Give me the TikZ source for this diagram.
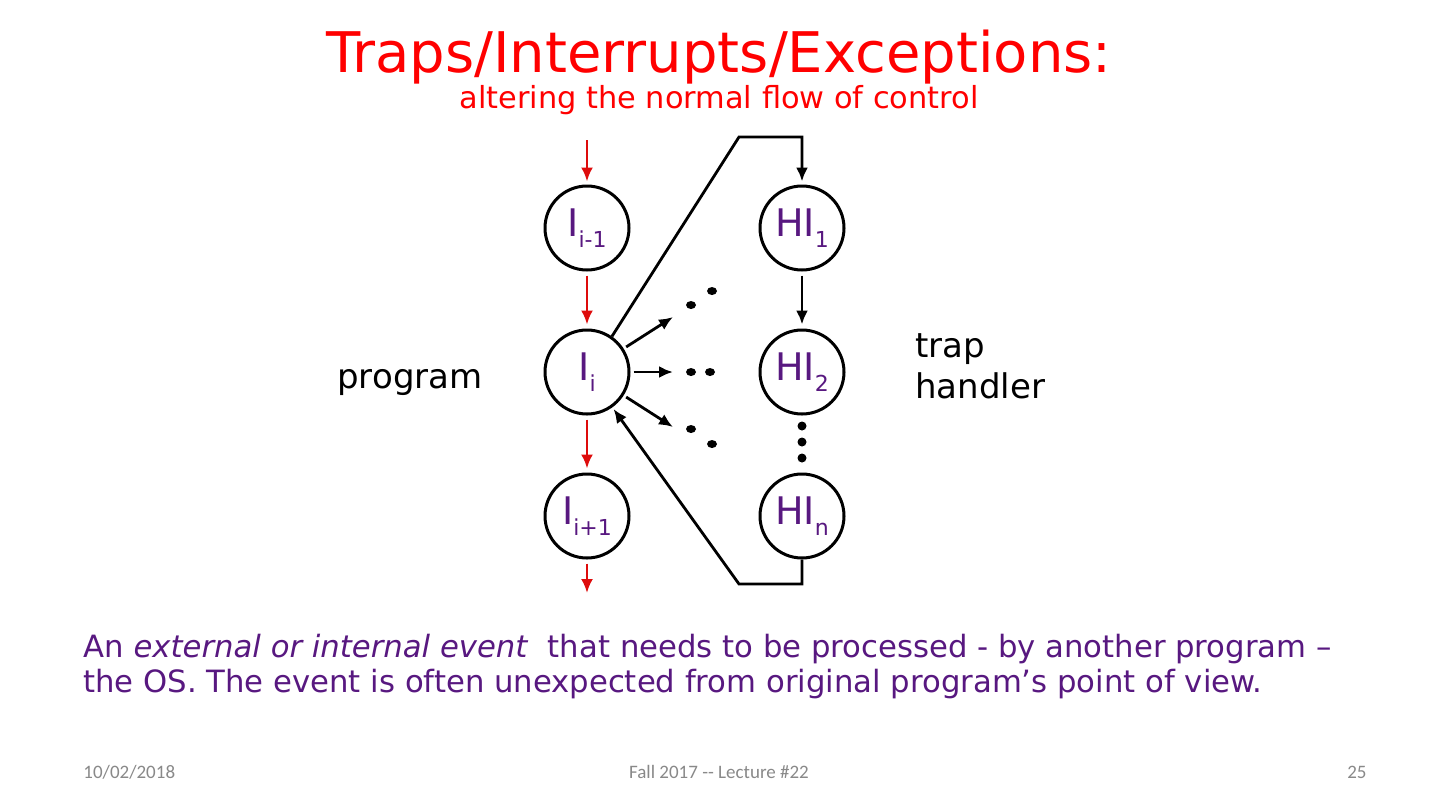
\documentclass[tikz,border=0pt]{standalone}
\usepackage{fontspec}
\setmainfont{DejaVu Sans}
\newfontfamily\footfont{Carlito}
\definecolor{SlideRed}   {RGB}{255,0,0}
\definecolor{FlowRed}    {RGB}{222,12,12}
\definecolor{SlidePurple}{RGB}{88,24,128}
\definecolor{FootGray}   {RGB}{137,137,137}
\usetikzlibrary{arrows.meta,positioning,calc}
\newcommand\sublbl[2]{#1\raisebox{-5.5pt}{\fontsize{11}{13}\selectfont #2}}

\begin{document}
\begin{tikzpicture}[x=0.5pt,y=-0.5pt,every node/.style={inner sep=0pt},
    instr/.style={circle,draw,line width=1.5pt,minimum size=42pt,
                  text=SlidePurple,font=\fontsize{19}{21}\selectfont},
    flow/.style={FlowRed,line width=1.3pt,-{Latex[length=7pt,width=6pt]}},
    jump/.style={black,line width=1.4pt,-{Latex[length=7pt,width=6pt]}},
    side/.style={font=\fontsize{17}{20.5}\selectfont,align=left}]
  \fill[white] (0,0) rectangle (1440,810);
  \useasboundingbox (0,0) rectangle (1440,810);
  % heading
  \node[anchor=base,text=SlideRed,font=\fontsize{28}{30}\selectfont]
    (title) at (719,72) {Traps/Interrupts/Exceptions:};
  \node[anchor=base,text=SlideRed,font=\fontsize{15.2}{18}\selectfont]
    (subtitle) at (719,108) {altering the normal flow of control};
  % program and handler columns
  \node[instr] (Iprev) at (587,228) {\sublbl{I}{i-1}};
  \node[instr] (Icur)  at (587,372) {\sublbl{I}{i}};
  \node[instr] (Inext) at (587,516) {\sublbl{I}{i+1}};
  \node[instr] (HIa)   at (802,228) {\sublbl{HI}{1}};
  \node[instr] (HIb)   at (802,372) {\sublbl{HI}{2}};
  \node[instr] (HIn)   at (802,516) {\sublbl{HI}{n}};
  \node[side,anchor=base west] (prog) at (337,388) {program};
  \node[side,anchor=base west] (trap) at (915,398) {trap\\handler};
  % normal flow
  \coordinate (inTop)  at (587,140);
  \coordinate (outBot) at (587,593);
  \draw[flow,shorten >=1.5pt] (inTop) -- (Iprev);
  \draw[flow,shorten <=2pt,shorten >=2pt] (Iprev) -- (Icur);
  \draw[flow,shorten <=2pt,shorten >=2pt] (Icur) -- (Inext);
  \draw[flow,shorten <=2pt] (Inext) -- (outBot);
  % trap and return
  \coordinate (jmpTop) at (739,137);
  \coordinate (jmpBot) at (739,584);
  \draw[jump,shorten >=1.5pt] (Icur.55) -- (jmpTop) -| (HIa);
  \draw[jump,shorten <=2pt,shorten >=2pt] (HIa) -- (HIb);
  \draw[jump,shorten >=1pt] (HIn) |- (jmpBot) -- (Icur);
  % other handlers
  \coordinate (fanUp)  at (673,317);
  \coordinate (fanMid) at (673,372);
  \coordinate (fanDn)  at (673,427);
  \foreach \f in {fanUp,fanMid,fanDn}
    \draw[jump,shorten <=1.5pt] (Icur) -- (\f);
  \foreach \x/\y in {691/305,712/291,691/372,710/372,691/429,712/444}
    \fill (\x,\y) ellipse [x radius=5,y radius=4];
  \foreach \y in {426,442,458}
    \fill (802,\y) circle [radius=4.5];
  % explanation
  \node[anchor=base west,align=left,text=SlidePurple,font=\fontsize{15.35}{17.5}\selectfont]
    (note) at (83,692) {An \textit{external or internal event}\ \ that needs to be processed - by another program –\\the OS. The event is often unexpected from original program’s point of view.};
  % footer
  \node[anchor=base west,text=FootGray,font=\footfont\fontsize{9.5}{11}\selectfont]
    (date) at (83,778) {10/02/2018};
  \node[anchor=base,text=FootGray,font=\footfont\fontsize{9.5}{11}\selectfont]
    (course) at (719,778) {Fall 2017 {-}{-} Lecture \#22};
  \node[anchor=base east,text=FootGray,font=\footfont\fontsize{9.5}{11}\selectfont]
    (page) at (1367,778) {25};
\end{tikzpicture}
\end{document}
